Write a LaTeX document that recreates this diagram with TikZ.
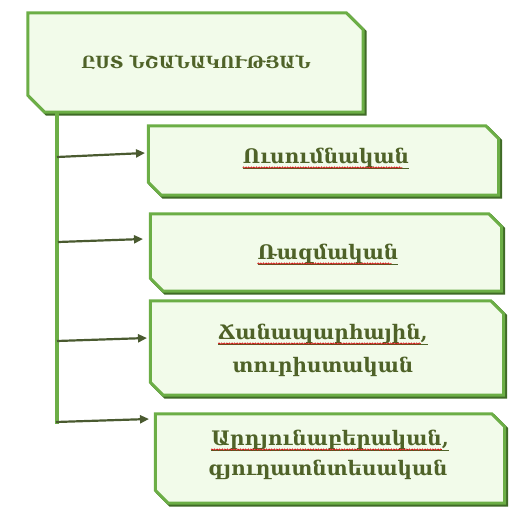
\documentclass[tikz,border=0pt]{standalone}
\usepackage{fontspec}
\setmainfont{DejaVu Serif}
\usetikzlibrary{decorations.pathmorphing,arrows.meta}
\definecolor{boxfill}{HTML}{F2FBEA}
\definecolor{boxline}{HTML}{6CAE46}
\definecolor{boxshadow}{HTML}{3F6A26}
\definecolor{txt}{HTML}{4F6228}
\definecolor{arrowc}{HTML}{4A5A30}
\newcommand\chbox[2]{%
  \draw[boxshadow, line width=3pt, line join=miter]
    ([shift={(1.8,-1.8)}]#1.north west) -- ([shift={(1.8-#2,-1.8)}]#1.north east) --
    ([shift={(1.8,-1.8-#2)}]#1.north east) -- ([shift={(1.8,-1.8)}]#1.south east) --
    ([shift={(1.8+#2,-1.8)}]#1.south west) -- ([shift={(1.8,-1.8+#2)}]#1.south west) -- cycle;
  \draw[boxline, fill=boxfill, line width=3pt, line join=miter]
    (#1.north west) -- ([xshift=-#2]#1.north east) --
    ([yshift=-#2]#1.north east) -- (#1.south east) --
    ([xshift=#2]#1.south west) -- ([yshift=#2]#1.south west) -- cycle;}
\begin{document}
\begin{tikzpicture}[x=1pt,y=1pt,
  area/.style={rectangle, draw=none, inner sep=0pt},
  lbl/.style={text=txt, font=\bfseries\fontsize{20}{24}\selectfont, inner sep=0pt, anchor=base},
  wave/.style={red!80!black, line width=0.6pt, decorate, decoration={snake, amplitude=0.7pt, segment length=2.6pt}},
  trunk/.style={boxline, line width=3.2pt},
  arr/.style={arrowc, line width=2.2pt, -{Triangle[length=9pt,width=8pt]}}]
\useasboundingbox (0,0) rectangle (520,-517);
% box areas
\node[area, minimum width=335pt, minimum height=99pt] (top) at (195.5,-62.5) {};
\node[area, minimum width=350pt, minimum height=69pt] (b1) at (323.5,-160.5) {};
\node[area, minimum width=351pt, minimum height=77pt] (b2) at (326,-252.5) {};
\node[area, minimum width=353pt, minimum height=94pt] (b3) at (327,-348) {};
\node[area, minimum width=349pt, minimum height=89pt] (b4) at (330,-458.5) {};
\chbox{top}{17pt}
\chbox{b1}{13pt}
\chbox{b2}{13pt}
\chbox{b3}{13pt}
\chbox{b4}{13pt}
% texts
\node[text=txt, font=\bfseries\fontsize{16.8}{20}\selectfont, inner sep=0pt] (t0) at (196,-62) {ԸՍՏ ՆՇԱՆԱԿՈՒԹՅԱՆ};
\node[lbl] (t1) at (326,-163) {\underline{Ուսումնական}};
\node[lbl] (t2) at (328,-259) {\underline{Ռազմական}};
\node[lbl] (t3a) at (323,-339) {\underline{Ճանապարհային,}};
\node[lbl] (t3b) at (323,-372) {տուրիստական};
\node[lbl] (t4a) at (330,-445) {\underline{Արդյունաբերական,}};
\node[lbl] (t4b) at (328,-475) {գյուղատնտեսական};
% spell-check waves
\foreach \t in {t1,t2,t3a,t4a}{
  \draw[wave] ([yshift=-4.6pt]\t.base west) -- ([yshift=-4.6pt,xshift=-7pt]\t.base east);
}
% trunk
\coordinate (tr0) at (57,-113);
\coordinate (tr1) at (57,-424);
\draw[trunk] (tr0) -- (tr1);
% arrows
\coordinate (a1s) at (57,-157); \coordinate (a1e) at (145,-153);
\coordinate (a2s) at (58,-242); \coordinate (a2e) at (143,-239);
\coordinate (a3s) at (57,-341); \coordinate (a3e) at (147,-338);
\coordinate (a4s) at (56,-422); \coordinate (a4e) at (149,-419);
\draw[arr] (a1s) -- (a1e);
\draw[arr] (a2s) -- (a2e);
\draw[arr] (a3s) -- (a3e);
\draw[arr] (a4s) -- (a4e);
\end{tikzpicture}
\end{document}
